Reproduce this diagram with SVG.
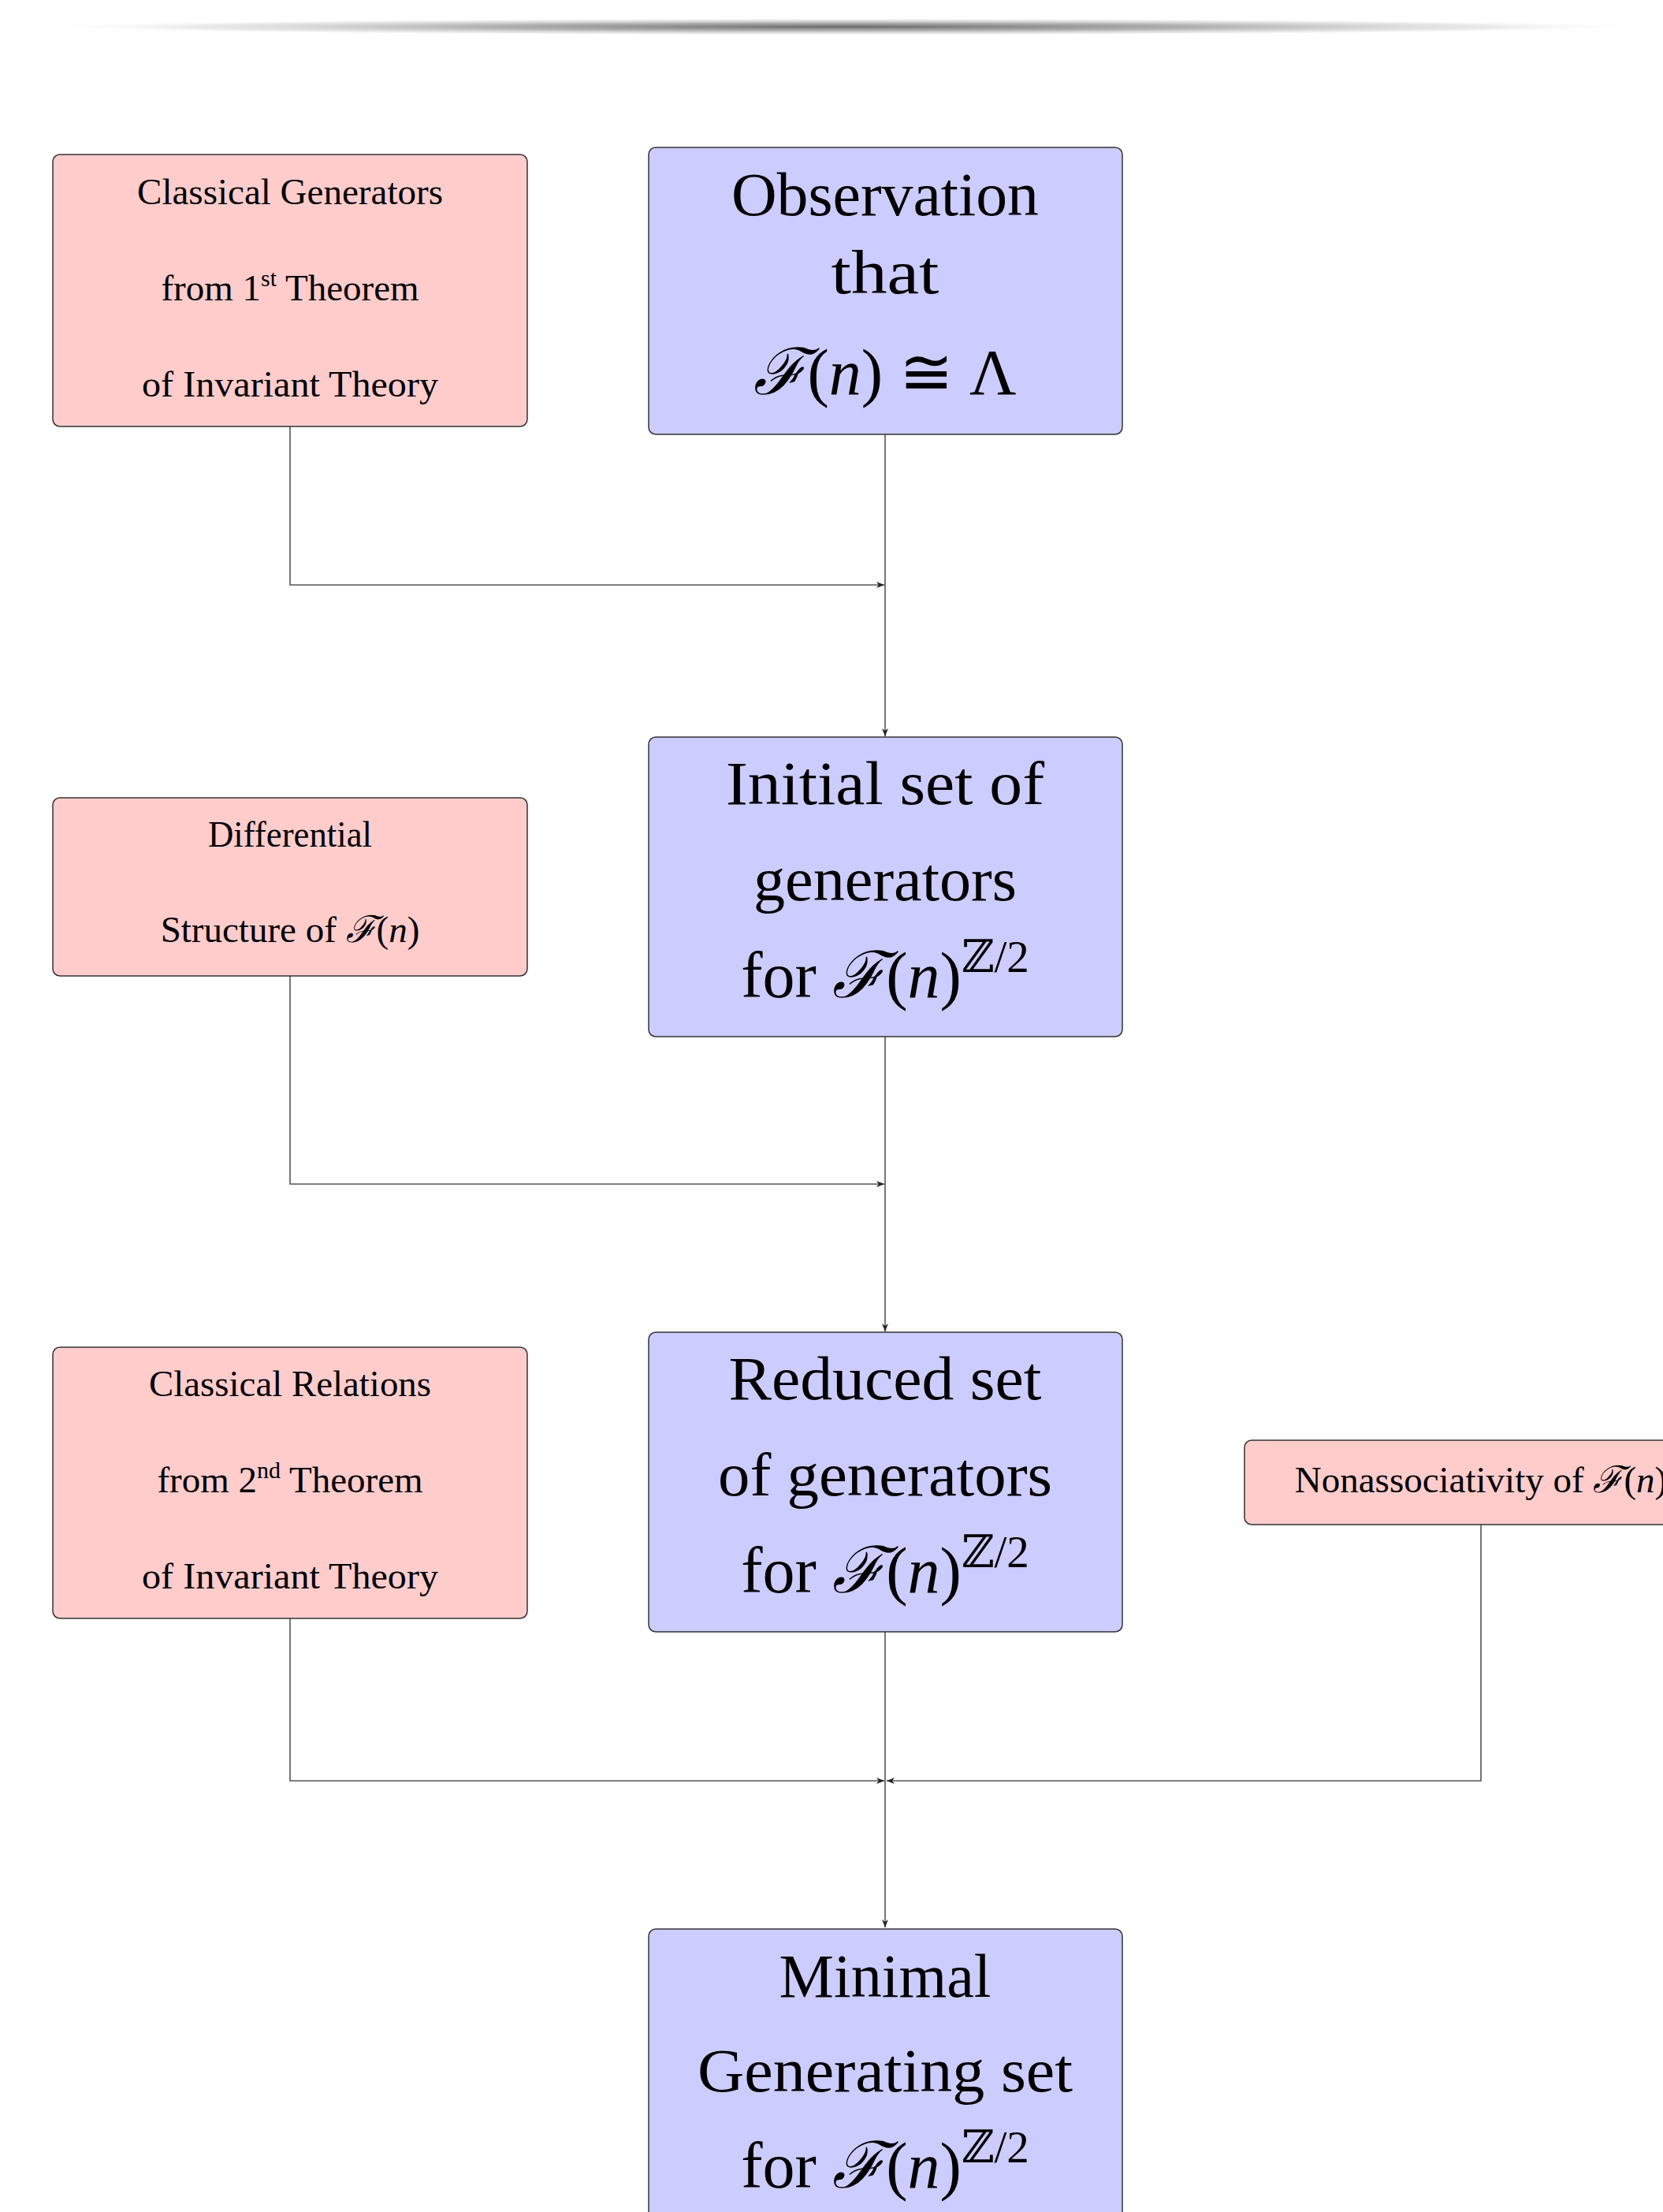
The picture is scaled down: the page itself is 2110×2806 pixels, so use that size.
<svg xmlns="http://www.w3.org/2000/svg" width="2110" height="2806" viewBox="0 0 2110 2806">
<style>
.pink{fill:#FFCCCC;stroke:#333;stroke-width:1.5}
.blue{fill:#CCCCFF;stroke:#333;stroke-width:1.5}
text{font-family:"Liberation Serif","DejaVu Serif",serif;fill:#000;text-anchor:middle}
.sm{font-size:47px}
.lg{font-size:78px}
.mth{font-size:82px}
.it{font-style:italic}
.conn{stroke:#555;stroke-width:1.6;fill:none}
</style>
<defs>
<radialGradient id="sh" cx="0.5" cy="0.5" r="0.5">
<stop offset="0" stop-color="#6a6a6a" stop-opacity="1"/>
<stop offset="0.45" stop-color="#999" stop-opacity="0.75"/>
<stop offset="0.8" stop-color="#ccc" stop-opacity="0.4"/>
<stop offset="1" stop-color="#fff" stop-opacity="0"/>
</radialGradient>
<marker id="ar" markerUnits="userSpaceOnUse" markerWidth="12" markerHeight="10" refX="10" refY="4" orient="auto">
<path d="M0,0 L10,4 L0,8 L3,4 z" fill="#222"/>
</marker>
</defs>
<rect width="2110" height="2806" fill="#fff"/>
<ellipse cx="1070" cy="34" rx="1035" ry="11" fill="url(#sh)"/>

<g id="connectors">
<path class="conn" d="M368,541 V742 H1122" marker-end="url(#ar)"/>
<path class="conn" d="M1123,551 V934" marker-end="url(#ar)"/>
<path class="conn" d="M368,1238 V1502 H1122" marker-end="url(#ar)"/>
<path class="conn" d="M1123,1315 V1689" marker-end="url(#ar)"/>
<path class="conn" d="M368,2053 V2259 H1122" marker-end="url(#ar)"/>
<path class="conn" d="M1879,1934 V2259 H1125" marker-end="url(#ar)"/>
<path class="conn" d="M1123,2070 V2445" marker-end="url(#ar)"/>
</g>

<g id="classical-generators">
<rect class="pink" x="67" y="196" width="602" height="345" rx="9"/>
<text class="sm" x="368" y="259" textLength="388" lengthAdjust="spacingAndGlyphs">Classical Generators</text>
<text class="sm" x="368" y="381">from 1<tspan font-size="30" dy="-18">st</tspan><tspan dy="18"> Theorem</tspan></text>
<text class="sm" x="368" y="503" textLength="376" lengthAdjust="spacingAndGlyphs">of Invariant Theory</text>
</g>

<g id="observation">
<rect class="blue" x="823" y="187" width="601" height="364" rx="9"/>
<text class="lg" x="1123" y="273" textLength="390" lengthAdjust="spacingAndGlyphs">Observation</text>
<text class="lg" x="1123" y="372" textLength="137" lengthAdjust="spacingAndGlyphs">that</text>
<text class="mth" x="1123" y="500"><tspan class="it">ℱ</tspan>(<tspan class="it">n</tspan>) ≅ Λ</text>
</g>

<g id="differential">
<rect class="pink" x="67" y="1012" width="602" height="226" rx="9"/>
<text class="sm" x="368" y="1074" textLength="208" lengthAdjust="spacingAndGlyphs">Differential</text>
<text class="sm" x="368" y="1195">Structure of <tspan class="it">ℱ</tspan>(<tspan class="it">n</tspan>)</text>
</g>

<g id="initial-set">
<rect class="blue" x="823" y="935" width="601" height="380" rx="9"/>
<text class="lg" x="1123" y="1020" textLength="404" lengthAdjust="spacingAndGlyphs">Initial set of</text>
<text class="lg" x="1123" y="1142" textLength="334" lengthAdjust="spacingAndGlyphs">generators</text>
<text class="mth" x="1123" y="1265">for <tspan class="it">ℱ</tspan>(<tspan class="it">n</tspan>)<tspan font-size="57" dy="-32">ℤ/2</tspan></text>
</g>

<g id="classical-relations">
<rect class="pink" x="67" y="1709" width="602" height="344" rx="9"/>
<text class="sm" x="368" y="1771" textLength="358" lengthAdjust="spacingAndGlyphs">Classical Relations</text>
<text class="sm" x="368" y="1893">from 2<tspan font-size="30" dy="-18">nd</tspan><tspan dy="18"> Theorem</tspan></text>
<text class="sm" x="368" y="2015" textLength="376" lengthAdjust="spacingAndGlyphs">of Invariant Theory</text>
</g>

<g id="reduced-set">
<rect class="blue" x="823" y="1690" width="601" height="380" rx="9"/>
<text class="lg" x="1123" y="1775" textLength="397" lengthAdjust="spacingAndGlyphs">Reduced set</text>
<text class="lg" x="1123" y="1897" textLength="424" lengthAdjust="spacingAndGlyphs">of generators</text>
<text class="mth" x="1123" y="2020">for <tspan class="it">ℱ</tspan>(<tspan class="it">n</tspan>)<tspan font-size="57" dy="-32">ℤ/2</tspan></text>
</g>

<g id="nonassociativity">
<rect class="pink" x="1579" y="1827" width="600" height="107" rx="9"/>
<text class="sm" x="1879" y="1893">Nonassociativity of <tspan class="it">ℱ</tspan>(<tspan class="it">n</tspan>)</text>
</g>

<g id="minimal">
<rect class="blue" x="823" y="2447" width="601" height="500" rx="9"/>
<text class="lg" x="1123" y="2533" textLength="269" lengthAdjust="spacingAndGlyphs">Minimal</text>
<text class="lg" x="1123" y="2653" textLength="476" lengthAdjust="spacingAndGlyphs">Generating set</text>
<text class="mth" x="1123" y="2775">for <tspan class="it">ℱ</tspan>(<tspan class="it">n</tspan>)<tspan font-size="57" dy="-32">ℤ/2</tspan></text>
</g>
</svg>
